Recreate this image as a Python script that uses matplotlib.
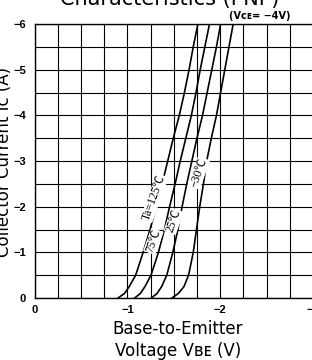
import matplotlib
matplotlib.use("Agg")
import matplotlib.pyplot as plt
import numpy as np

# ---- data ----
current = [0, -0.1, -0.25, -0.5, -1.0, -1.5, -2.0, -2.5, -3.0, -3.5, -4.0, -4.5, -5.0, -5.5, -6.0]
v_125 = [-0.90, -0.97, -1.02, -1.09, -1.17, -1.245, -1.31, -1.375, -1.435, -1.495, -1.56, -1.615, -1.665, -1.71, -1.76]
v_75 = [-1.08, -1.14, -1.19, -1.255, -1.335, -1.40, -1.455, -1.515, -1.57, -1.63, -1.69, -1.74, -1.785, -1.835, -1.885]
v_25 = [-1.26, -1.32, -1.37, -1.425, -1.49, -1.545, -1.59, -1.64, -1.695, -1.75, -1.81, -1.86, -1.91, -1.96, -2.005]
v_m30 = [-1.48, -1.55, -1.61, -1.66, -1.71, -1.745, -1.78, -1.82, -1.855, -1.905, -1.96, -2.005, -2.05, -2.095, -2.14]
series = [v_125, v_75, v_25, v_m30]

labels = ["Ta=125\u2103", "75\u2103", "25\u2103", "\u221230\u2103"]
label_v = [-1.29, -1.28, -1.50, -1.77]
label_i = [-2.19, -1.24, -1.68, -2.74]

x_ticks = [0, -1, -2, -3]
x_tick_labels = ["0", "\u22121", "\u22122", "\u22123"]
y_ticks = [0, -1, -2, -3, -4, -5, -6]
y_tick_labels = ["0", "\u22121", "\u22122", "\u22123", "\u22124", "\u22125", "\u22126"]

tick_font = ["Liberation Sans Narrow", "Liberation Sans", "DejaVu Sans"]

fig = plt.figure(figsize=(3.12, 3.6), dpi=100)
ax = fig.add_axes([34.5/312, 1-298/360, (313-34.5)/312, (298-24)/360])

ax.set_xlim(0, -3)
ax.set_ylim(0, -6)

ax.set_xticks(np.arange(0, -3.01, -0.25), minor=True)
ax.set_yticks(np.arange(0, -6.01, -0.5), minor=True)
ax.set_xticks(x_ticks)
ax.set_xticklabels(x_tick_labels, fontsize=8, fontweight="bold", family=tick_font)
ax.set_yticks(y_ticks)
ax.set_yticklabels(y_tick_labels, fontsize=8, fontweight="bold", family=tick_font)
ax.tick_params(which="both", length=0)
ax.tick_params(axis="x", pad=5)
ax.tick_params(axis="y", pad=6)
ax.grid(which="both", color="black", linewidth=0.8)
ax.set_axisbelow(True)
for s in ax.spines.values():
    s.set_linewidth(1.0)

for v in series:
    ax.plot(v, current, color="black", linewidth=1.2, zorder=3)

for txt, xv, yv in zip(labels, label_v, label_i):
    ax.text(xv, yv, txt, rotation=70, ha="center", va="center",
            fontsize=8.5, family=["Liberation Serif", "Noto Sans CJK JP"],
            bbox=dict(facecolor="white", edgecolor="none", pad=0.3), zorder=4)

fig.text(260/312, 1-16/360, "(V\u1d04\u1d07= \u22124V)", ha="center", va="center",
         fontsize=7, fontweight="bold")

fig.text(170/312, 1-5/360, "Characteristics (PNP)", ha="center", va="baseline", fontsize=15)

fig.text(178/312, 1-334/360, "Base-to-Emitter", ha="center", va="baseline", fontsize=12)
fig.text(178/312, 1-356/360, "Voltage V\u0299\u1d07 (V)", ha="center", va="baseline", fontsize=12)
fig.text(9/312, 1-162/360, "Collector Current I\u1d04 (A)", rotation=90, rotation_mode="anchor",
         ha="center", va="baseline", fontsize=12)

fig.savefig("out.png", dpi=100)
